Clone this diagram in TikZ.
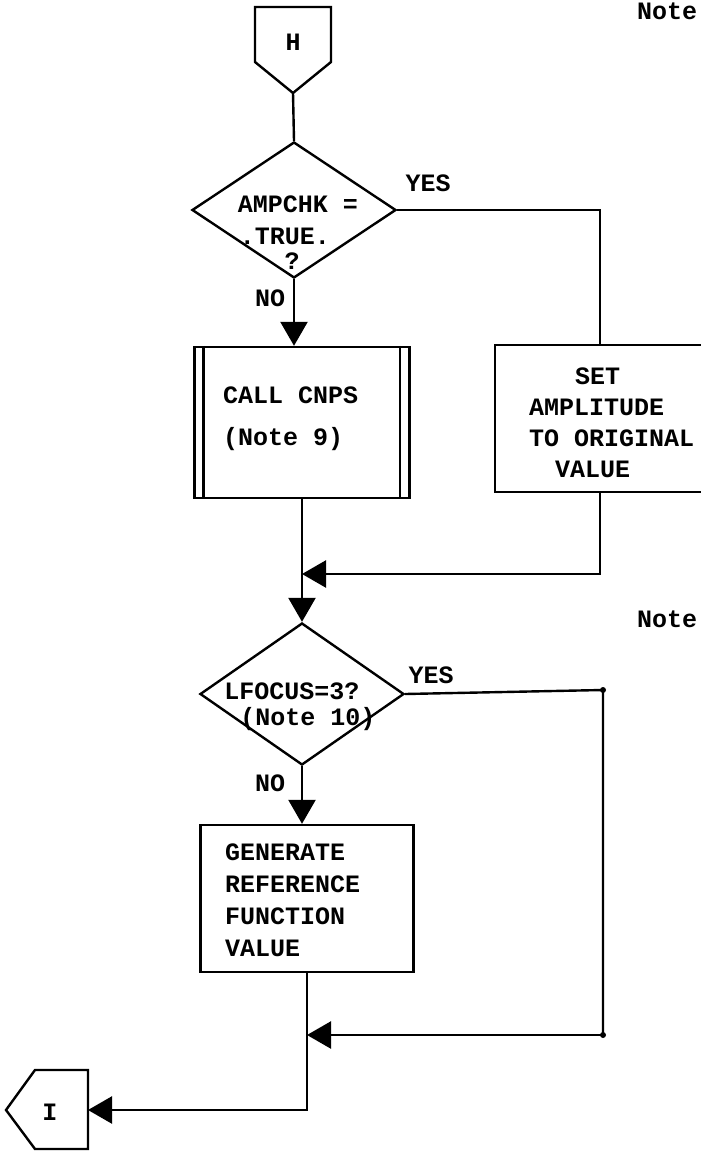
\documentclass[tikz,border=0pt]{standalone}
\usepackage{fontspec}
\setmonofont{Liberation Mono}
\usetikzlibrary{arrows.meta,shapes.geometric,calc}
\begin{document}
\begin{tikzpicture}[x=1pt,y=-1pt,
  every node/.style={font=\ttfamily\bfseries\fontsize{25}{31}\selectfont, inner sep=0pt},
  ln/.style={line width=2.4pt},
  arr/.style={ln,-{Triangle[length=24pt,width=27pt]}},
  box/.style={draw,ln,rectangle,inner sep=0pt},
  dia/.style={draw,ln,diamond,inner sep=0pt},
  conn/.style={draw,ln,line join=miter},
  dot/.style={circle,fill,minimum size=6pt,inner sep=0pt}]
\useasboundingbox (0,0) rectangle (701,1151);

% H connector
\draw[conn] (255,7) -- (331,7) -- (331,62) -- (293,93) -- (255,62) -- cycle;
\node (H) at (293,42) {H};
\coordinate (Hb) at (293,93);

% Notes
\node[anchor=west] (note1) at (637,11) {Note};
\node[anchor=west] (note2) at (637,619) {Note};

% decision 1
\node[dia, minimum width=204pt, minimum height=136pt] (d1) at (294,210) {};
\node (t1a) at (298,204) {AMPCHK =};
\node (t1b) at (285,236) {.TRUE.};
\node (t1c) at (292,261) {?};
\node (y1) at (428,183) {YES};
\node (n1) at (270,298) {NO};
\draw[ln] (Hb) -- (d1.north);

% set amplitude box
\node[box, minimum width=210pt, minimum height=147pt] (set) at (600,418.5) {};
\node[align=left, anchor=west] (settxt) at (529,423)
  {\hspace*{46pt}SET\\AMPLITUDE\\TO ORIGINAL\\\hspace*{26pt}VALUE};
\draw[ln] (d1.east) -| (set.north);

% call cnps box
\node[box, minimum width=215pt, minimum height=151pt] (call) at (302,422.5) {};
\draw[ln] ([xshift=10pt]call.north west) -- ([xshift=10pt]call.south west);
\draw[ln] ([xshift=-11pt]call.north east) -- ([xshift=-11pt]call.south east);
\node[align=left, anchor=west] (calltxt) at (223,419) {CALL CNPS\\[11pt](Note 9)};
\draw[arr] (d1.south) -- (d1.south |- call.north);

% decision 2
\node[dia, minimum width=204pt, minimum height=142pt] (d2) at (302,694) {};
\node (t2a) at (292,691) {LFOCUS=3?};
\node (t2b) at (308,719) {(Note 10)};
\node (y2) at (431,675) {YES};
\node (n2) at (270,783) {NO};

\coordinate (j1) at (302,574);
\draw[arr] (call.south) -- (d2.north);
\draw[arr] (set.south) |- (j1);

% generate box
\node[box, minimum width=213pt, minimum height=147pt] (gen) at (307,898.5) {};
\node[align=left, anchor=west, font=\ttfamily\bfseries\fontsize{25}{32}\selectfont] (gentxt) at (225,900)
  {GENERATE\\REFERENCE\\FUNCTION\\VALUE};
\draw[arr] (d2.south) -- (d2.south |- gen.north);

% right branch 2
\coordinate (c2) at (603,690);
\coordinate (c3) at (603,1035);
\coordinate (j2) at (307,1035);
\node[dot] (dc2) at (c2) {};
\node[dot] (dc3) at (c3) {};
\draw[ln] (d2.east) -- (c2) -- (c3);
\draw[arr] (c3) -- (j2);

% I connector
\draw[conn] (88,1070) -- (88,1149) -- (35,1149) -- (6,1110) -- (35,1070) -- cycle;
\node (I) at (50,1112) {I};
\coordinate (Ie) at (88,1110);
\draw[arr] (gen.south) |- (Ie);
\end{tikzpicture}
\end{document}
